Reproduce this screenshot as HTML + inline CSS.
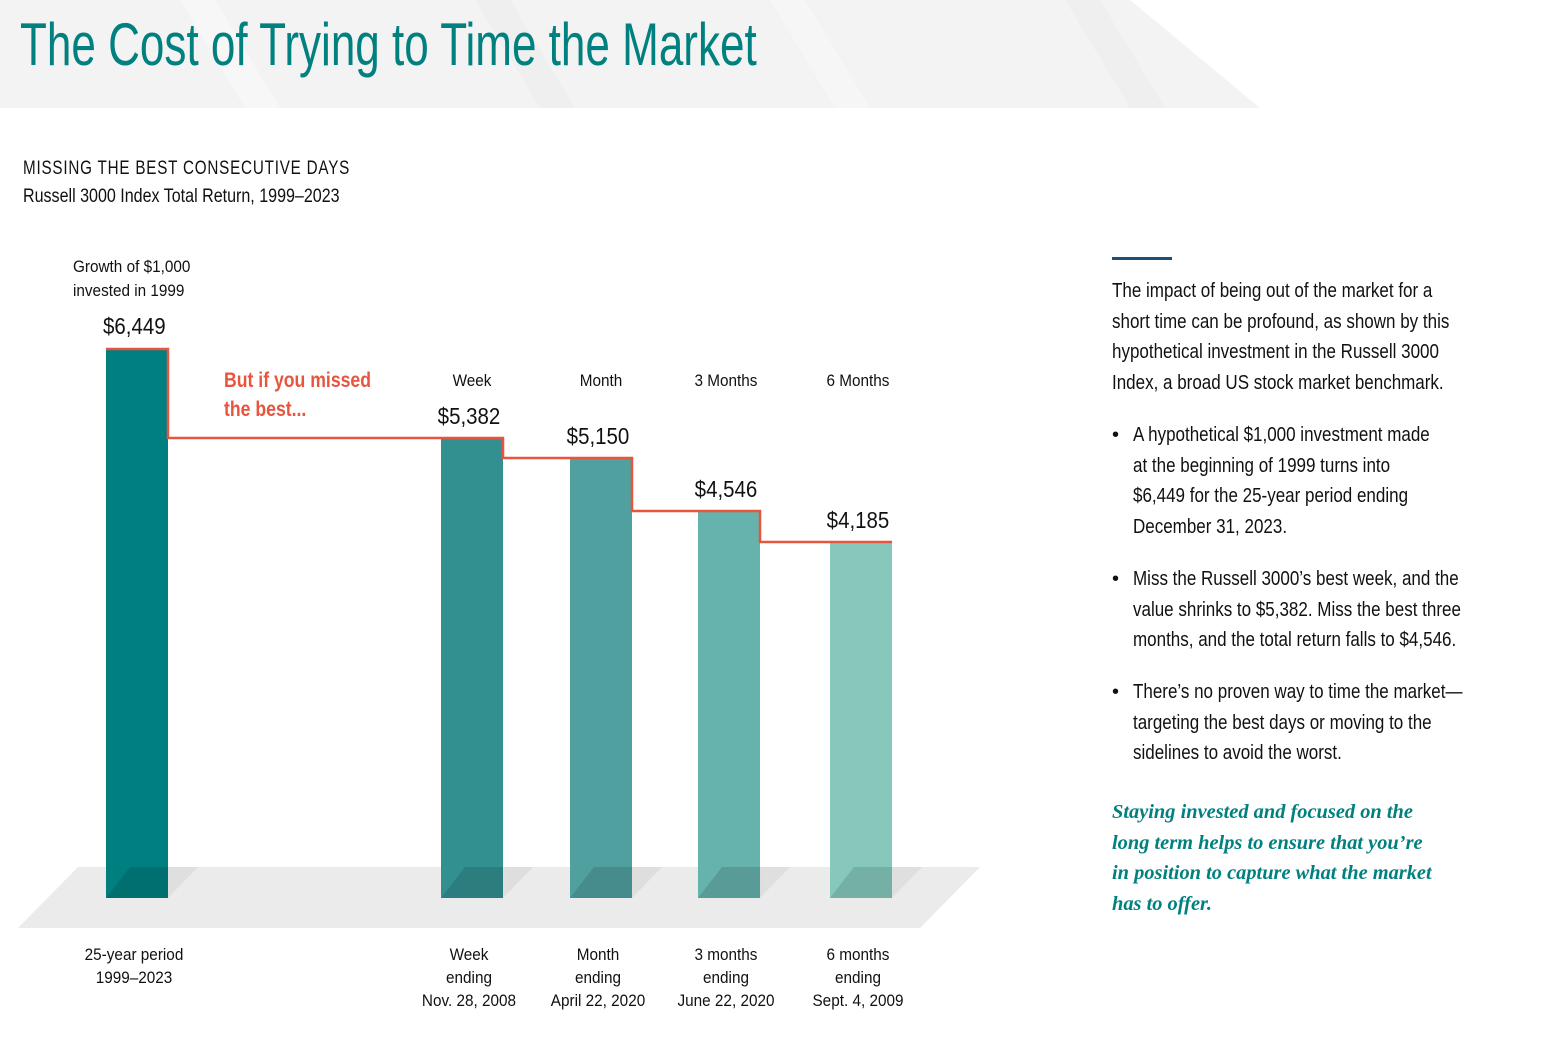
<!DOCTYPE html>
<html><head><meta charset="utf-8"><style>
body{margin:0;width:1542px;height:1054px;background:#fff;position:relative;overflow:hidden;font-family:"Liberation Sans Narrow","Liberation Sans",sans-serif;color:#111}
.a{position:absolute;white-space:nowrap;transform-origin:left top}
.c{text-align:center;transform-origin:center top}
</style></head><body>
<svg class="a" style="left:0;top:0" width="1542" height="1054">
<polygon points="0,0 1130,0 1260,108 0,108" fill="#f3f3f3"/>
<polygon points="180,0 215,0 280,108 245,108" fill="#f7f7f7"/>
<polygon points="475,0 510,0 575,108 540,108" fill="#efefef"/>
<polygon points="770,0 805,0 870,108 835,108" fill="#f6f6f6"/>
<polygon points="1065,0 1100,0 1165,108 1130,108" fill="#efefef"/>
<polygon points="78,867 980,867 920,928 18,928" fill="#ebebeb"/>
<rect x="106" y="349" width="62" height="549" fill="#007f80"/>
<rect x="441" y="438" width="62" height="460" fill="#339090"/>
<rect x="570" y="458" width="62" height="440" fill="#50a0a0"/>
<rect x="698" y="511" width="62" height="387" fill="#66b2ac"/>
<rect x="830" y="542" width="62" height="356" fill="#86c9bb"/>
<g fill="#000" opacity="0.12">
<polygon points="106,898 130,867 168,867 168,898"/>
<polygon points="441,898 465,867 503,867 503,898"/>
<polygon points="570,898 594,867 632,867 632,898"/>
<polygon points="698,898 722,867 760,867 760,898"/>
<polygon points="830,898 854,867 892,867 892,898"/>
</g>
<g fill="#000" opacity="0.05">
<polygon points="168,867 198,867 168,898"/>
<polygon points="503,867 533,867 503,898"/>
<polygon points="632,867 662,867 632,898"/>
<polygon points="760,867 790,867 760,898"/>
<polygon points="892,867 922,867 892,898"/>
</g>
<polyline points="106,349 168,349 168,438 503,438 503,458 632,458 632,511 760,511 760,542 892,542" fill="none" stroke="#e8553f" stroke-width="2.5"/>
<rect x="1112" y="257" width="60" height="3" fill="#1d4f7a"/>
</svg>
<div class="a" style="left:20px;top:10px;font-size:60px;color:#00807f;transform:scaleX(0.734)">The Cost of Trying to Time the Market</div>
<div class="a" style="left:23px;top:158px;font-size:19px;letter-spacing:1px;transform:scaleX(0.8)">MISSING THE BEST CONSECUTIVE DAYS</div>
<div class="a" style="left:23px;top:186px;font-size:19px;transform:scaleX(0.845)">Russell 3000 Index Total Return, 1999–2023</div>
<div class="a" style="left:73px;top:255px;font-size:17px;line-height:24px;transform:scaleX(0.9)">Growth of $1,000<br>invested in 1999</div>
<div class="a" style="left:103px;top:313px;font-size:23px;transform:scaleX(0.89)">$6,449</div>
<div class="a" style="left:224px;top:366px;font-size:21px;line-height:29px;color:#e8553f;font-weight:bold;transform:scaleX(0.84)">But if you missed<br>the best...</div>
<div class="a c" style="left:422px;width:100px;top:371px;font-size:17px;transform:scaleX(0.9)">Week</div>
<div class="a c" style="left:551px;width:100px;top:371px;font-size:17px;transform:scaleX(0.9)">Month</div>
<div class="a c" style="left:676px;width:100px;top:371px;font-size:17px;transform:scaleX(0.9)">3 Months</div>
<div class="a c" style="left:808px;width:100px;top:371px;font-size:17px;transform:scaleX(0.9)">6 Months</div>
<div class="a c" style="left:419px;width:100px;top:403px;font-size:23px;transform:scaleX(0.89)">$5,382</div>
<div class="a c" style="left:548px;width:100px;top:423px;font-size:23px;transform:scaleX(0.89)">$5,150</div>
<div class="a c" style="left:676px;width:100px;top:476px;font-size:23px;transform:scaleX(0.89)">$4,546</div>
<div class="a c" style="left:808px;width:100px;top:507px;font-size:23px;transform:scaleX(0.89)">$4,185</div>
<div class="a c" style="left:74px;width:120px;top:943px;font-size:17px;line-height:23px;transform:scaleX(0.9)">25-year period<br>1999–2023</div>
<div class="a c" style="left:409px;width:120px;top:943px;font-size:17px;line-height:23px;transform:scaleX(0.9)">Week<br>ending<br>Nov. 28, 2008</div>
<div class="a c" style="left:538px;width:120px;top:943px;font-size:17px;line-height:23px;transform:scaleX(0.9)">Month<br>ending<br>April 22, 2020</div>
<div class="a c" style="left:666px;width:120px;top:943px;font-size:17px;line-height:23px;transform:scaleX(0.9)">3 months<br>ending<br>June 22, 2020</div>
<div class="a c" style="left:798px;width:120px;top:943px;font-size:17px;line-height:23px;transform:scaleX(0.9)">6 months<br>ending<br>Sept. 4, 2009</div>
<div class="a" style="left:1112px;top:276px;font-size:20px;line-height:30.7px;transform:scaleX(0.85)">The impact of being out of the market for a<br>short time can be profound, as shown by this<br>hypothetical investment in the Russell 3000<br>Index, a broad US stock market benchmark.</div>
<div class="a" style="left:1112px;top:420px;font-size:20px;line-height:30.7px">•</div>
<div class="a" style="left:1133px;top:420px;font-size:20px;line-height:30.7px;transform:scaleX(0.85)">A hypothetical $1,000 investment made<br>at the beginning of 1999 turns into<br>$6,449 for the 25-year period ending<br>December 31, 2023.</div>
<div class="a" style="left:1112px;top:564px;font-size:20px;line-height:30.7px">•</div>
<div class="a" style="left:1133px;top:564px;font-size:20px;line-height:30.7px;transform:scaleX(0.85)">Miss the Russell 3000’s best week, and the<br>value shrinks to $5,382. Miss the best three<br>months, and the total return falls to $4,546.</div>
<div class="a" style="left:1112px;top:677px;font-size:20px;line-height:30.7px">•</div>
<div class="a" style="left:1133px;top:677px;font-size:20px;line-height:30.7px;transform:scaleX(0.85)">There’s no proven way to time the market—<br>targeting the best days or moving to the<br>sidelines to avoid the worst.</div>
<div class="a" style="left:1112px;top:797px;font-size:20px;line-height:30.7px;color:#00807f;font-style:italic;font-weight:bold;font-family:'Liberation Serif',serif;transform:scaleX(1.02)">Staying invested and focused on the<br>long term helps to ensure that you’re<br>in position to capture what the market<br>has to offer.</div>
</body></html>
